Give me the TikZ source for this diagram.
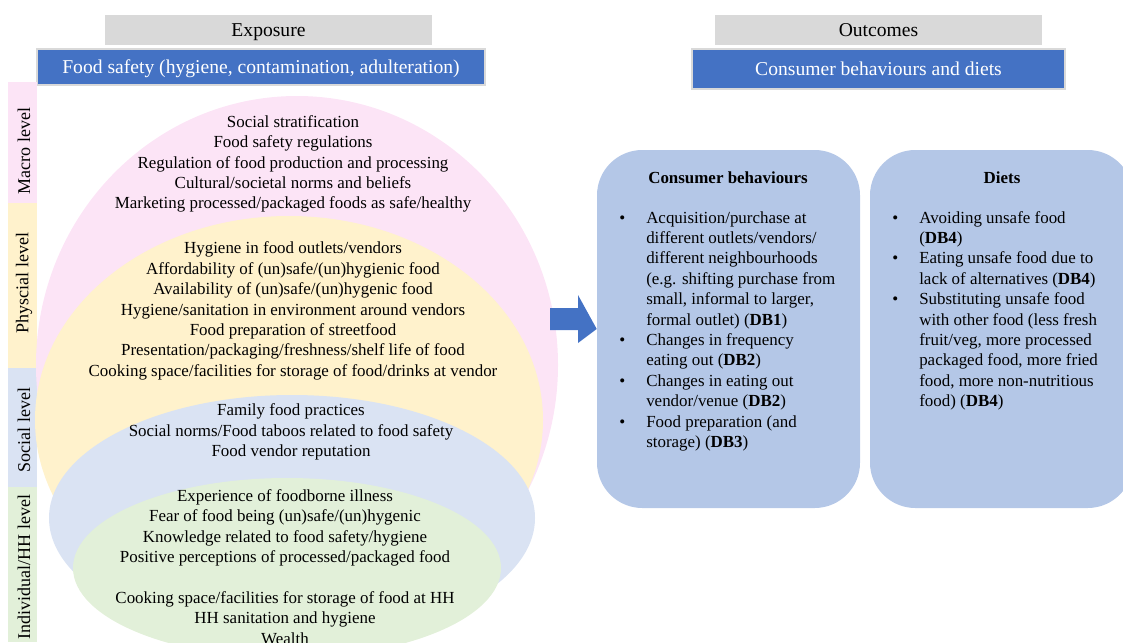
\documentclass[tikz,border=0pt]{standalone}
\usepackage{fontspec}
\setmainfont{Liberation Serif}
\definecolor{macropink}{RGB}{252,228,246}
\definecolor{physyellow}{RGB}{255,242,204}
\definecolor{socblue}{RGB}{218,227,243}
\definecolor{indgreen}{RGB}{226,240,217}
\definecolor{hdrgrey}{RGB}{217,217,217}
\definecolor{barblue}{RGB}{68,114,196}
\definecolor{boxblue}{RGB}{180,199,231}
\newcommand{\fs}{\fontsize{12.7}{15.3}\selectfont}
\newcommand{\hs}{\fontsize{14.7}{17}\selectfont}
\begin{document}
\begin{tikzpicture}[x=0.75pt,y=-0.75pt,
  hdr/.style={fill=hdrgrey, minimum width=245.25pt, minimum height=22.5pt, inner sep=0pt, text height=9.7pt, text depth=0pt, font=\hs},
  topbar/.style={fill=barblue, draw=hdrgrey, line width=0.8pt, text=white, minimum height=27pt, inner sep=0pt, text height=9.7pt, text depth=0pt, font=\hs},
  lvl/.style={rotate=90, inner sep=0pt, font=\fontsize{13.5}{15}\selectfont},
  lines/.style={align=center, inner sep=0pt, font=\fs},
  outbox/.style={fill=boxblue, rounded corners=34pt, minimum width=197.25pt, minimum height=268.5pt},
  items/.style={anchor=base west, inner sep=0pt, font=\fs}]
\useasboundingbox (0,0) rectangle (1123,642);
\clip (0,0) rectangle (1123,642);

\node[hdr] (expo) at (268.5,30) {Exposure};
\node[hdr] (outc) at (878.5,30) {Outcomes};
\node[topbar, minimum width=336pt] (safety) at (261,67) {Food safety (hygiene, contamination, adulteration)};
\node[topbar, minimum width=279.75pt, minimum height=30pt] (cbd) at (878.5,69) {Consumer behaviours and diets};

\fill[macropink] (8,82) rectangle (37,203);
\fill[physyellow] (8,203) rectangle (37,368);
\fill[socblue] (8,368) rectangle (37,487);
\fill[indgreen] (8,487) rectangle (37,642);
\node[lvl] (macro) at (24,151) {Macro level};
\node[lvl] (phys) at (24,283) {Physcial level};
\node[lvl] (soc) at (24,430) {Social level};
\node[lvl] (indiv) at (24,567) {Individual/HH level};

\fill[macropink] (297,365) ellipse [x radius=261, y radius=269];
\fill[physyellow] (289,420) ellipse [x radius=254, y radius=204];
\fill[socblue] (292,518) ellipse [x radius=243, y radius=123];
\fill[indgreen] (287,568) ellipse [x radius=214, y radius=90];

\node[lines] (macrotxt) at (293,164) {Social stratification\\
  Food safety regulations\\
  Regulation of food production and processing\\
  Cultural/societal norms and beliefs\\
  Marketing processed/packaged foods as safe/healthy};
\node[lines] (phystxt) at (293,311) {Hygiene in food outlets/vendors\\
  Affordability of (un)safe/(un)hygienic food\\
  Availability of (un)safe/(un)hygenic food\\
  Hygiene/sanitation in environment around vendors\\
  Food preparation of streetfood\\
  Presentation/packaging/freshness/shelf life of food\\
  Cooking space/facilities for storage of food/drinks at vendor};
\node[lines] (soctxt) at (291,432) {Family food practices\\
  Social norms/Food taboos related to food safety\\
  Food vendor reputation};
\node[lines] (indivtxt) at (285,567) {Experience of foodborne illness\\
  Fear of food being (un)safe/(un)hygenic\\
  Knowledge related to food safety/hygiene\\
  Positive perceptions of processed/packaged food\\[15.3pt]
  Cooking space/facilities for storage of food at HH\\
  HH sanitation and hygiene\\
  Wealth};

\node[outbox] (cbbox) at (728.5,329) {};
\node[outbox] (dietbox) at (1001.5,329) {};
\fill[barblue] (550,308) -- (578,308) -- (578,295) -- (cbbox.west) -- (578,343) -- (578,330) -- (550,330) -- cycle;

\node[font=\fs\bfseries] (cbtitle) at (728,178) {Consumer behaviours};
\node[font=\fs\bfseries] (diettitle) at (1002,178) {Diets};
\node[items] (cblist) at (619,223) {\begin{tabular}[t]{@{}p{20.25pt}@{}l@{}}
\textbullet & Acquisition/purchase at\\
 & different outlets/vendors/\\
 & different neighbourhoods\\
 & (e.g. shifting purchase from\\
 & small, informal to larger,\\
 & formal outlet) (\textbf{DB1})\\
\textbullet & Changes in frequency\\
 & eating out (\textbf{DB2})\\
\textbullet & Changes in eating out\\
 & vendor/venue (\textbf{DB2})\\
\textbullet & Food preparation (and\\
 & storage) (\textbf{DB3})
\end{tabular}};
\node[items] (dietlist) at (892,223) {\begin{tabular}[t]{@{}p{20.25pt}@{}l@{}}
\textbullet & Avoiding unsafe food\\
 & (\textbf{DB4})\\
\textbullet & Eating unsafe food due to\\
 & lack of alternatives (\textbf{DB4})\\
\textbullet & Substituting unsafe food\\
 & with other food (less fresh\\
 & fruit/veg, more processed\\
 & packaged food, more fried\\
 & food, more non-nutritious\\
 & food) (\textbf{DB4})
\end{tabular}};
\end{tikzpicture}
\end{document}
